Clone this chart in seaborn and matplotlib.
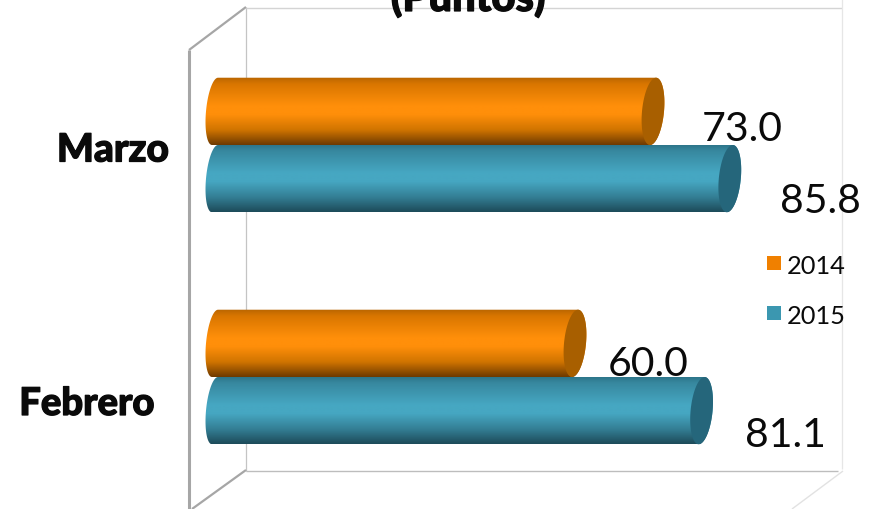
import numpy as np
import pandas as pd
import seaborn as sns
import matplotlib
matplotlib.use("Agg")
import matplotlib.pyplot as plt
import matplotlib.patheffects as pe
from matplotlib.colors import LinearSegmentedColormap
from matplotlib.patches import Polygon
from matplotlib.lines import Line2D

months = ["Marzo", "Febrero"]
years = ["2014", "2015"]
values_2014 = [73.0, 60.0]
values_2015 = [85.8, 81.1]
orange = "#F08000"
teal = "#3B97B0"

sns.set_theme(style="white")
plt.rcParams["font.family"] = ["Lato", "DejaVu Sans"]

df = pd.DataFrame({
    "mes": months * 2,
    "anio": [years[0]] * 2 + [years[1]] * 2,
    "valor": values_2014 + values_2015,
})

W, H = 880, 510
fig = plt.figure(figsize=(W / 100, H / 100), dpi=100)
ax = fig.add_axes([0, 0, 1, 1])
sns.barplot(data=df, y="mes", x="valor", hue="anio", order=months, hue_order=years,
            palette=[orange, teal], width=0.58, orient="h", ax=ax, legend=False,
            zorder=3, saturation=1, linewidth=0)

# 6 px per unit with zero at px 215; category spacing 232 px, first centre at px 146
PX = 6.0
PY = 232.0
XLIM = (-215 / PX, (W - 215) / PX)
YLIM = ((510 - 146) / PY, -146 / PY)
ax.set_xlim(*XLIM)
ax.set_ylim(*YLIM)
ax.axis("off")
def X(px): return (px - 215) / PX
def Y(py): return (py - 146) / PY

def seg(x0, y0, x1, y1, c, lw):
    ax.add_line(Line2D([X(x0), X(x1)], [Y(y0), Y(y1)], color=c, lw=lw, zorder=1,
                       solid_capstyle="butt"))
seg(189, 51, 189, 510, "#A6A6A6", 2.2)
seg(189, 51, 246, 8, "#A6A6A6", 1.6)
seg(246, 8, 246, 472, "#C4C4C4", 0.9)
seg(246, 9, 842, 9, "#D4D4D4", 1.0)
seg(842, 0, 842, 470, "#E6E6E6", 0.9)
seg(246, 472, 838, 472, "#BDBDBD", 1.0)
seg(246, 471, 192, 510, "#A6A6A6", 1.6)
seg(843, 472, 792, 510, "#E2E2E2", 1.0)

grad = np.linspace(0, 1, 128).reshape(-1, 1)
stops_pos = [0, 0.1, 0.42, 0.55, 0.78, 1.0]
CAP_R = 11.0 / PX    # half-width of right end
CAP_L = 9.0 / PX     # half-width of left end
SHEAR = -3.0 / PX    # bottom of each end leans left, top leans right

def end_curve(xc, half, t):
    # t runs in radians; sin(t) = +1 at the bottom edge of the bar
    return xc + half * np.cos(t) + SHEAR * np.sin(t), np.sin(t)

for b in list(ax.patches):
    w = b.get_width()
    if w <= 0:
        continue
    is_orange = b.get_facecolor()[0] > 0.5
    y0, h = b.get_y(), b.get_height()
    yc = y0 + h / 2
    z = 5 if is_orange else 3
    if is_orange:
        stops = ["#B96500", "#D97600", "#FF8F0A", "#FF8F0A", "#D07400", "#6E3A00"]
        capc = "#A85F00"
    else:
        stops = ["#2C7387", "#37889F", "#46A7C2", "#46A7C2", "#347F95", "#1D4B5A"]
        capc = "#25667B"
    cm = LinearSegmentedColormap.from_list("s", list(zip(stops_pos, stops)))
    b.set_visible(False)

    t_r = np.linspace(-np.pi / 2, np.pi / 2, 60)
    t_l = np.linspace(np.pi / 2, 3 * np.pi / 2, 60)
    xr, sr = end_curve(w, CAP_R, t_r)
    xl, sl = end_curve(0.0, CAP_L, t_l)
    outline = np.column_stack([np.r_[xr, xl], yc + h / 2 * np.r_[sr, sl]])
    body = Polygon(outline, closed=True, facecolor="none", edgecolor="none", zorder=z)
    ax.add_patch(body)
    im = ax.imshow(grad, cmap=cm, aspect="auto", zorder=z, interpolation="bilinear",
                   extent=(-CAP_L - abs(SHEAR), w + CAP_R + abs(SHEAR), y0 + h, y0))
    im.set_clip_path(body)
    tc = np.linspace(0, 2 * np.pi, 120)
    xc, sc = end_curve(w, CAP_R, tc)
    ax.add_patch(Polygon(np.column_stack([xc, yc + h / 2 * sc]), closed=True,
                         facecolor=capc, edgecolor="none", zorder=z + 0.5))
ax.set_xlim(*XLIM)
ax.set_ylim(*YLIM)

# value labels, offsets in pixels from the bar ends
bar_h = 0.29
for (val, row, shift, (dx, dy)) in [
    (values_2014[0], 0, -bar_h / 2, (89, 17)),
    (values_2015[0], 0, bar_h / 2, (91, 22)),
    (values_2014[1], 1, -bar_h / 2, (73, 20)),
    (values_2015[1], 1, bar_h / 2, (84, 24)),
]:
    ax.text(val + dx / PX, row + shift + dy / PY, f"{val:.1f}", fontsize=29.5, color="#0A0A0A",
            ha="center", va="center", zorder=8)

bold = [pe.withStroke(linewidth=0.9, foreground="#0A0A0A")]
for row, (name, px, dy, fs) in enumerate(zip(months, [113, 87], [5, 27], [28, 27.5])):
    ax.text(X(px), row + dy / PY, name, fontsize=fs, fontweight="black", color="#0A0A0A",
            ha="center", va="center", zorder=8, path_effects=bold)

# title, cut off by the top edge as in the reference
ax.text(X(468), Y(-1), "(Puntos)", fontsize=30, fontweight="black", color="#0A0A0A",
        ha="center", va="center", zorder=8, path_effects=bold)

# legend
for lab, col, py in zip(years, [orange, teal], [264, 314]):
    ax.add_patch(plt.Rectangle((X(767), Y(py - 7)), 14 / PX, 14 / PY, facecolor=col,
                               edgecolor="none", zorder=8))
    ax.text(X(787), Y(py + 3), lab, fontsize=18.3, color="#0A0A0A", ha="left", va="center", zorder=8)

fig.savefig("out.png", dpi=100)
